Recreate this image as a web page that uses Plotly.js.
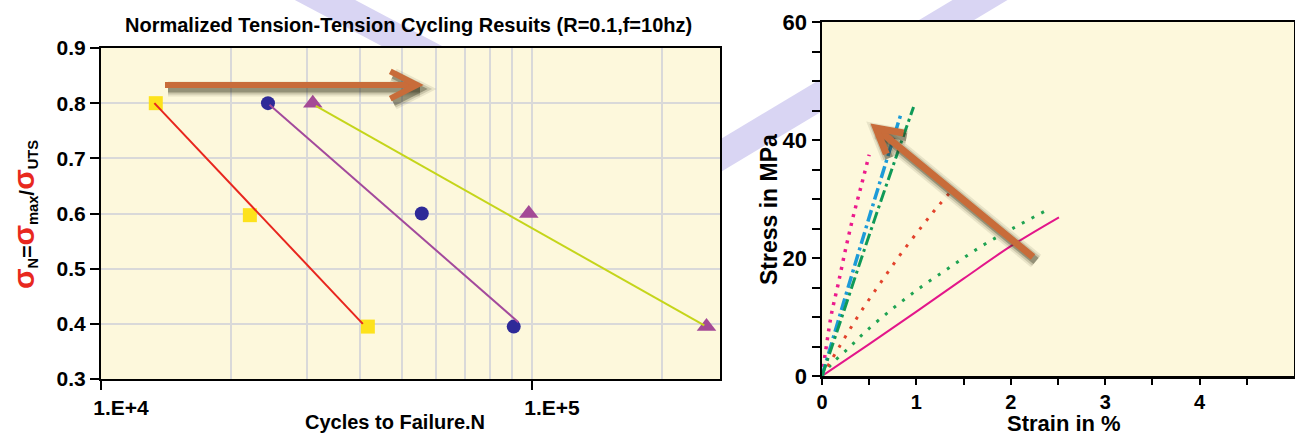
<!DOCTYPE html>
<html>
<head>
<meta charset="utf-8">
<script src="https://cdn.plot.ly/plotly-3.0.1.min.js"></script>
<style>html,body{margin:0;padding:0;background:#fff}#chart{width:1295px;height:437px}</style>
</head>
<body>
<div id="chart"></div>
<script>
// ---------- DATA (left: normalized S-N) ----------
const squareCycles = [1.34e4, 2.215e4, 4.16e4];
const squareStress = [0.80, 0.597, 0.395];
const circleCycles = [2.44e4, 5.55e4, 9.07e4];
const circleStress = [0.80, 0.60, 0.395];
const triangleCycles = [3.10e4, 9.83e4, 2.54e5];
const triangleStress = [0.80, 0.60, 0.395];
const redFitCycles = [1.33e4, 4.05e4];
const redFitStress = [0.80, 0.40];
const purpleFitCycles = [2.46e4, 9.3e4];
const purpleFitStress = [0.797, 0.403];
const limeFitCycles = [3.15e4, 2.51e5];
const limeFitStress = [0.795, 0.397];
const leftYTicks = [0.3, 0.4, 0.5, 0.6, 0.7, 0.8, 0.9];
const leftXTicks = [1e4, 1e5];
const leftXTickText = ['1.E+4', '1.E+5'];
const leftMinorGrid = [2e4, 3e4, 4e4, 5e4, 6e4, 7e4, 8e4, 9e4, 2e5];

// ---------- DATA (right: stress-strain) ----------
const magentaStrain = [0, 0.5, 1.0, 1.5, 2.0, 2.51];
const magentaStress = [0, 5.4, 10.9, 16.5, 22.0, 26.9];
const greenDotStrain = [0, 0.1, 0.28, 0.46, 0.755, 1.06, 1.38, 1.70, 2.03, 2.38];
const greenDotStress = [0, 2.0, 4.7, 7.5, 11.5, 15.2, 18.7, 22.1, 25.1, 28.1];
const redDotStrain = [0, 0.2, 0.4, 0.62, 0.84, 1.07, 1.23, 1.40];
const redDotStress = [0, 5.4, 10.6, 15.8, 20.8, 25.6, 28.8, 31.9];
const pinkDotStrain = [0, 0.05, 0.1, 0.17, 0.25, 0.33, 0.42, 0.5];
const pinkDotStress = [0, 5.5, 10.5, 15.5, 21.5, 27.0, 32.5, 37.5];
const cyanStrain = [0, 0.18, 0.4, 0.62, 0.84];
const cyanStress = [0, 9.8, 21.6, 33.2, 44.6];
const greenDDStrain = [0, 0.2, 0.45, 0.7, 0.97];
const greenDDStress = [0, 9.5, 21.5, 33.2, 45.6];
const rightXTicks = [0, 1, 2, 3, 4];
const rightXMinor = [0.5, 1.5, 2.5, 3.5, 4.5];
const rightYTicks = [0, 20, 40, 60];
const rightYMinor = [5, 10, 15, 25, 30, 35, 45, 50, 55];

// ---------- LAYOUT HELPERS ----------
const W = 1295, H = 437;
const px = x => x / W;
const py = y => 1 - y / H;
const FONT = 'Liberation Sans, Arial, Helvetica, sans-serif';
const BG = '#fdf8dc';
const GRID = '#d9d9d9';

function pathPx(points, close) {
  return points.map((p, i) => (i ? 'L' : 'M') + px(p[0]).toFixed(5) + ',' + py(p[1]).toFixed(5)).join(' ') + (close ? ' Z' : '');
}
function band(x0, y0, slope, x1, x2, half) {
  const yc = x => y0 + slope * (x - x0);
  return {type: 'path', xref: 'paper', yref: 'paper', layer: 'below',
    path: pathPx([[x1, yc(x1) - half], [x2, yc(x2) - half], [x2, yc(x2) + half], [x1, yc(x1) + half]], true),
    fillcolor: '#d9d5f3', line: {width: 0}};
}
function arrowShapes(tail, tip, headLen, angDeg, width, color) {
  const dx = tail[0] - tip[0], dy = tail[1] - tip[1];
  const L = Math.hypot(dx, dy); const ux = dx / L, uy = dy / L;
  const a = angDeg * Math.PI / 180;
  const rot = (t) => [tip[0] + headLen * (ux * Math.cos(t) - uy * Math.sin(t)), tip[1] + headLen * (ux * Math.sin(t) + uy * Math.cos(t))];
  const arm1 = rot(a), arm2 = rot(-a);
  const mk = (off, w, c) => {
    const sh = p => [p[0] + off[0], p[1] + off[1]];
    return [
      {type: 'path', xref: 'paper', yref: 'paper', layer: 'above', path: pathPx([sh(tail), sh(tip)]), line: {color: c, width: w}},
      {type: 'path', xref: 'paper', yref: 'paper', layer: 'above', path: pathPx([sh(arm1), sh(tip), sh(arm2)]), line: {color: c, width: w}}
    ];
  };
  return [].concat(
    mk([3, 4], width + 9, 'rgba(60,58,30,0.10)'),
    mk([3, 4], width + 5, 'rgba(60,58,30,0.18)'),
    mk([3, 4], width + 1, 'rgba(50,48,25,0.35)'),
    mk([0, 0], width, color)
  );
}

// ---------- TRACES ----------
const traces = [
  {x: squareCycles, y: squareStress, xaxis: 'x', yaxis: 'y', mode: 'markers', type: 'scatter',
   marker: {symbol: 'square', size: 14, color: '#fde21c'}},
  {x: circleCycles, y: circleStress, xaxis: 'x', yaxis: 'y', mode: 'markers', type: 'scatter',
   marker: {symbol: 'circle', size: 14, color: '#2e2a98'}},
  {x: triangleCycles, y: triangleStress, xaxis: 'x', yaxis: 'y', mode: 'markers', type: 'scatter',
   marker: {symbol: 'triangle-up', size: 17, color: '#a44a96'}},
  {x: redFitCycles, y: redFitStress, xaxis: 'x', yaxis: 'y', mode: 'lines', type: 'scatter',
   line: {color: '#e8261e', width: 2}},
  {x: purpleFitCycles, y: purpleFitStress, xaxis: 'x', yaxis: 'y', mode: 'lines', type: 'scatter',
   line: {color: '#a34a9c', width: 2}},
  {x: limeFitCycles, y: limeFitStress, xaxis: 'x', yaxis: 'y', mode: 'lines', type: 'scatter',
   line: {color: '#c5d51a', width: 2}},

  {x: magentaStrain, y: magentaStress, xaxis: 'x2', yaxis: 'y2', mode: 'lines', type: 'scatter',
   line: {color: '#e3168a', width: 2, shape: 'spline'}},
  {x: greenDotStrain, y: greenDotStress, xaxis: 'x2', yaxis: 'y2', mode: 'lines', type: 'scatter',
   line: {color: '#1fa352', width: 3, dash: '3px,8px', shape: 'spline'}},
  {x: redDotStrain, y: redDotStress, xaxis: 'x2', yaxis: 'y2', mode: 'lines', type: 'scatter',
   line: {color: '#e2432c', width: 3, dash: '3px,8px', shape: 'spline'}},
  {x: pinkDotStrain, y: pinkDotStress, xaxis: 'x2', yaxis: 'y2', mode: 'lines', type: 'scatter',
   line: {color: '#ec1a8c', width: 3.5, dash: '3px,6px', shape: 'spline'}},
  {x: cyanStrain, y: cyanStress, xaxis: 'x2', yaxis: 'y2', mode: 'lines', type: 'scatter',
   line: {color: '#1c9bd8', width: 3.5, dash: '12px,4px,3px,4px', shape: 'spline'}},
  {x: greenDDStrain, y: greenDDStress, xaxis: 'x2', yaxis: 'y2', mode: 'lines', type: 'scatter',
   line: {color: '#0f9a58', width: 3, dash: '12px,4px,3px,4px', shape: 'spline'}}
];

// ---------- SHAPES ----------
const shapes = [
  band(325, 0, 0.53, 260, 690, 16),
  band(980, 0, -0.6, 640, 1050, 16.5),
  {type: 'rect', xref: 'paper', yref: 'paper', layer: 'below', x0: px(101), x1: px(720), y0: py(379), y1: py(48), fillcolor: BG, line: {width: 0}},
  {type: 'rect', xref: 'paper', yref: 'paper', layer: 'below', x0: px(822), x1: px(1294), y0: py(376), y1: py(22), fillcolor: BG, line: {width: 0}}
].concat(
  arrowShapes([165, 85], [417, 85], 30, 27, 6, '#c86c3a'),
  arrowShapes([1033, 257], [876, 128], 28, 29, 7, '#c86c3a')
);

const tickFont = {family: FONT, size: 21, color: '#000', weight: 'bold'};
const tickFont2 = {family: FONT, size: 22, color: '#000', weight: 'bold'};
const tickFont2x = {family: FONT, size: 20, color: '#000', weight: 'bold'};
const sig = '<span style="color:#e8281e;font-size:30px">σ</span>';
const minorTicks = (vals, len) => ({tickmode: 'array', tickvals: vals, ticks: 'outside', ticklen: len, tickwidth: 2, tickcolor: '#000', showgrid: false});

const layout = {
  width: W, height: H,
  margin: {l: 0, r: 0, t: 0, b: 0, pad: 0},
  paper_bgcolor: '#ffffff',
  plot_bgcolor: 'rgba(0,0,0,0)',
  showlegend: false,
  xaxis: {
    type: 'log', domain: [px(101), px(720)], anchor: 'y',
    range: [4, Math.log10(2.73e5)],
    tickmode: 'array', tickvals: leftXTicks, ticktext: leftXTickText,
    ticks: 'outside', ticklen: 9, tickwidth: 2, tickcolor: '#000', ticklabelshift: 20,
    showline: true, linewidth: 2, linecolor: '#000', mirror: true,
    showgrid: true, gridcolor: GRID, gridwidth: 2, zeroline: false,
    minor: {tickmode: 'array', tickvals: leftMinorGrid, showgrid: true, gridcolor: GRID, gridwidth: 2, ticks: ''},
    tickfont: tickFont
  },
  yaxis: {
    domain: [py(379), py(48)], anchor: 'x',
    range: [0.3, 0.9], tickmode: 'array', tickvals: leftYTicks, tickformat: '.1f',
    ticks: 'outside', ticklen: 9, tickwidth: 2, tickcolor: '#000',
    showline: true, linewidth: 2, linecolor: '#000', mirror: true,
    showgrid: true, gridcolor: GRID, gridwidth: 2, zeroline: false,
    tickfont: tickFont
  },
  xaxis2: {
    domain: [px(822), px(1294)], anchor: 'y2',
    range: [0, 5], tickmode: 'array', tickvals: rightXTicks,
    ticks: 'outside', ticklen: 6, tickwidth: 2, tickcolor: '#000',
    minor: minorTicks(rightXMinor, 6),
    showline: true, linewidth: 2.5, linecolor: '#000', mirror: true,
    showgrid: false, zeroline: false, tickfont: tickFont2x
  },
  yaxis2: {
    domain: [py(376), py(22)], anchor: 'x2',
    range: [0, 60], tickmode: 'array', tickvals: rightYTicks,
    ticks: 'outside', ticklen: 8, tickwidth: 2, tickcolor: '#000',
    minor: minorTicks(rightYMinor, 8),
    showline: true, linewidth: 2.5, linecolor: '#000', mirror: true,
    showgrid: false, zeroline: false, tickfont: tickFont2
  },
  shapes: shapes,
  annotations: [
    {text: 'Normalized Tension-Tension Cycling Resuits (R=0.1,f=10hz)', xref: 'paper', yref: 'paper',
     x: px(408), y: py(25), xanchor: 'center', yanchor: 'middle', showarrow: false,
     font: {family: FONT, size: 20, color: '#000', weight: 'bold'}},
    {text: 'Cycles to Failure.N', xref: 'paper', yref: 'paper',
     x: px(395), y: py(422), xanchor: 'center', yanchor: 'middle', showarrow: false,
     font: {family: FONT, size: 20, color: '#000', weight: 'bold'}},
    {text: sig + '<sub>N</sub>=' + sig + '<sub>max</sub>/' + sig + '<sub>UTS</sub>', xref: 'paper', yref: 'paper',
     x: px(24), y: py(215), xanchor: 'center', yanchor: 'middle', textangle: -90, showarrow: false,
     font: {family: FONT, size: 21, color: '#000', weight: 'bold'}},
    {text: 'Strain in %', xref: 'paper', yref: 'paper', borderpad: 0,
     x: px(1064), y: 0, xanchor: 'center', yanchor: 'bottom', showarrow: false,
     font: {family: FONT, size: 22, color: '#000', weight: 'bold'}},
    {text: 'Stress in MPa', xref: 'paper', yref: 'paper',
     x: px(769), y: py(209), xanchor: 'center', yanchor: 'middle', textangle: -90, showarrow: false,
     font: {family: FONT, size: 23, color: '#000', weight: 'bold'}}
  ]
};

Plotly.newPlot('chart', traces, layout, {staticPlot: true, displayModeBar: false});
</script>
</body>
</html>
